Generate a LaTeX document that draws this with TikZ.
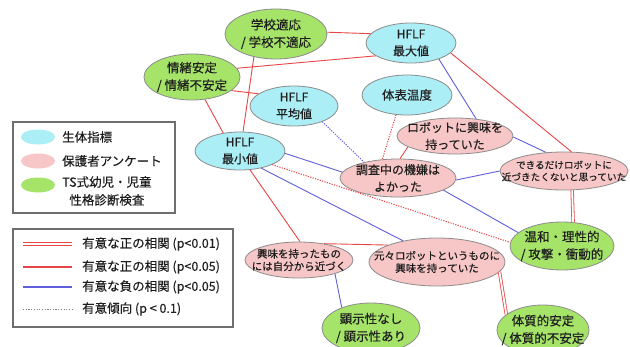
\documentclass[tikz,border=0pt]{standalone}
\usepackage{fontspec}
\setmainfont{Noto Sans CJK JP}[FakeBold=0.3]
\usetikzlibrary{shapes.geometric}
\definecolor{bioC}{RGB}{172,238,245}
\definecolor{parC}{RGB}{247,198,198}
\definecolor{tsC}{RGB}{165,228,105}
\definecolor{nodeB}{RGB}{140,140,140}
\definecolor{txt}{RGB}{30,30,30}
\definecolor{posR}{RGB}{232,70,70}
\definecolor{negB}{RGB}{95,95,220}
\definecolor{legB}{RGB}{110,110,110}
\tikzset{
  ell/.style={ellipse, draw=nodeB, line width=0.8pt, inner sep=0pt},
  bio/.style={ell, fill=bioC},
  par/.style={ell, fill=parC},
  ts/.style={ell, fill=tsC},
  lab/.style={inner sep=0pt, align=center, text=txt},
  fbig/.style={lab, font=\fontsize{12.5pt}{17.5pt}\selectfont},
  fmid/.style={lab, font=\fontsize{12pt}{17pt}\selectfont},
  fsml/.style={lab, font=\fontsize{10.5pt}{12.5pt}\selectfont},
  ftiny/.style={lab, font=\fontsize{9.6pt}{12pt}\selectfont},
  pone/.style={draw=posR, line width=0.8pt, double=white, double distance=1.8pt},
  pfive/.style={draw=posR, line width=0.9pt},
  nfive/.style={draw=negB, line width=0.9pt},
  trendR/.style={draw=posR, line width=1pt, dash pattern=on 1.2pt off 1.3pt},
  trendB/.style={draw=negB, line width=1pt, dash pattern=on 1.2pt off 1.3pt},
  trendG/.style={draw=gray, line width=0.9pt, dash pattern=on 1.2pt off 1.5pt},
  legbox/.style={draw=legB, line width=1.3pt, fill=white},
  legtxt/.style={anchor=west, inner sep=0pt, text=txt, font=\fontsize{12.5pt}{18pt}\selectfont, align=center},
  legell/.style={ellipse, inner sep=0pt, minimum width=34pt, minimum height=15pt}
}
\begin{document}
\begin{tikzpicture}[x=1pt,y=-1pt]
\clip (0,0) rectangle (630,346);
\fill[white] (0,0) rectangle (630,346);

% ellipses
\node[ts, minimum width=102pt, minimum height=50pt] (S) at (276,34) {};
\node[ts, minimum width=96pt, minimum height=46pt] (E) at (192,77) {};
\node[bio, minimum width=90pt, minimum height=40pt] (MX) at (411,43) {};
\node[bio, minimum width=88pt, minimum height=40pt] (AV) at (294,106) {};
\node[bio, minimum width=90pt, minimum height=40pt] (T) at (407,95) {};
\node[bio, minimum width=90pt, minimum height=38pt] (MN) at (240,151) {};
\node[par, minimum width=116pt, minimum height=36pt] (R) at (455,136) {};
\node[par, minimum width=116pt, minimum height=38pt] (M) at (398,178) {};
\node[par, minimum width=128pt, minimum height=38pt] (A) at (564,171) {};
\node[ts, minimum width=104pt, minimum height=48pt] (C) at (562,246) {};
\node[par, minimum width=108pt, minimum height=36pt] (P) at (299,260) {};
\node[par, minimum width=136pt, minimum height=48pt] (O) at (437,262) {};
\node[ts, minimum width=98pt, minimum height=50pt] (H) at (371,328) {};
\node[ts, minimum width=92pt, minimum height=50pt] (B) at (543,330) {};

% texts
\node[fbig] (St) at (S) {学校適応\\/ 学校不適応};
\node[fbig] (Et) at (E) {情緒安定\\/ 情緒不安定};
\node[fmid] (MXt) at (MX) {HFLF\\最大値};
\node[fmid] (AVt) at (AV) {HFLF\\平均値};
\node[fbig] (Tt) at (T) {体表温度};
\node[fmid] (MNt) at (MN) {HFLF\\最小値};
\node[fmid] (Rt) at (R) {ロボットに興味を\\持っていた};
\node[fmid] (Mt) at (M) {調査中の機嫌は\\よかった};
\node[ftiny] (At) at (A) {できるだけロボットに\\近づきたくないと思っていた};
\node[fbig] (Ct) at (C) {温和・理性的\\/ 攻撃・衝動的};
\node[fsml] (Pt) at (P) {興味を持ったもの\\には自分から近づく};
\node[fsml] (Ot) at (O) {元々ロボットというものに\\興味を持っていた};
\node[fbig] (Ht) at (H) {顕示性なし\\/ 顕示性あり};
\node[fbig] (Bt) at (B) {体質的安定\\/ 体質的不安定};

% connectors
\draw[pfive] (S.2) -- (MX.167);
\draw[pfive] (E.11) -- (MX.200);
\draw[pfive] (E.-19) -- (AV.161);
\draw[pfive] (E.300) -- (MN.133);
\draw[pfive] (S.226) -- (MN.81);
\draw[nfive] (MX.-30) -- (R.39);
\draw[pfive] (MX.-14) -- (A.69);
\draw[trendR] (T.241) -- (M.130);
\draw[trendB] (AV.-29) -- (M.155);
\draw[pfive] (R.193) -- (M.84);
\draw[nfive] (R.-1) -- (A.134);
\draw[nfive] (M.-2) -- (A.180);
\draw[nfive] (M.-15) -- (C.163);
\draw[nfive] (MN.-3) -- (M.174);
\draw[trendR] (MN.-23) -- (C.176);
\draw[nfive] (MN.-39) -- (O.148);
\draw[pfive] (MN.-62) -- (P.87);
\draw[pfive] (P.33) -- (O.161);
\draw[nfive] (P.-21) -- (H.145);
\draw[pone] (O.-9) -- (B.157);
\draw[pone] (A.-67) -- (C.65);

% legend 1
\draw[legbox] (13,122) rectangle (175,213);
\node[legell, fill=bioC] (L1) at (38,137) {};
\node[legell, fill=parC] (L2) at (38,161) {};
\node[legell, fill=tsC] (L3) at (38,185) {};
\node[legtxt] (L1t) at (62,137) {生体指標};
\node[legtxt] (L2t) at (62,161) {保護者アンケート};
\node[legtxt, anchor=north west] (L3t) at (62,176) {TS式幼児・児童\\性格診断検査};

% legend 2
\draw[legbox] (13,229) rectangle (233,327);
\coordinate (a1) at (23,244); \coordinate (b1) at (72,244);
\coordinate (a2) at (23,267); \coordinate (b2) at (72,267);
\coordinate (a3) at (23,287); \coordinate (b3) at (72,287);
\coordinate (a4) at (23,309); \coordinate (b4) at (72,309);
\draw[pone] (a1) -- (b1);
\draw[pfive, line width=1.2pt] (a2) -- (b2);
\draw[nfive, line width=1.3pt] (a3) -- (b3);
\draw[trendG] (a4) -- (b4);
\node[legtxt] (T1) at (82,244) {有意な正の相関 (p<0.01)};
\node[legtxt] (T2) at (82,267) {有意な正の相関 (p<0.05)};
\node[legtxt] (T3) at (82,287) {有意な負の相関 (p<0.05)};
\node[legtxt] (T4) at (82,309) {有意傾向 (p < 0.1)};
\end{tikzpicture}
\end{document}
